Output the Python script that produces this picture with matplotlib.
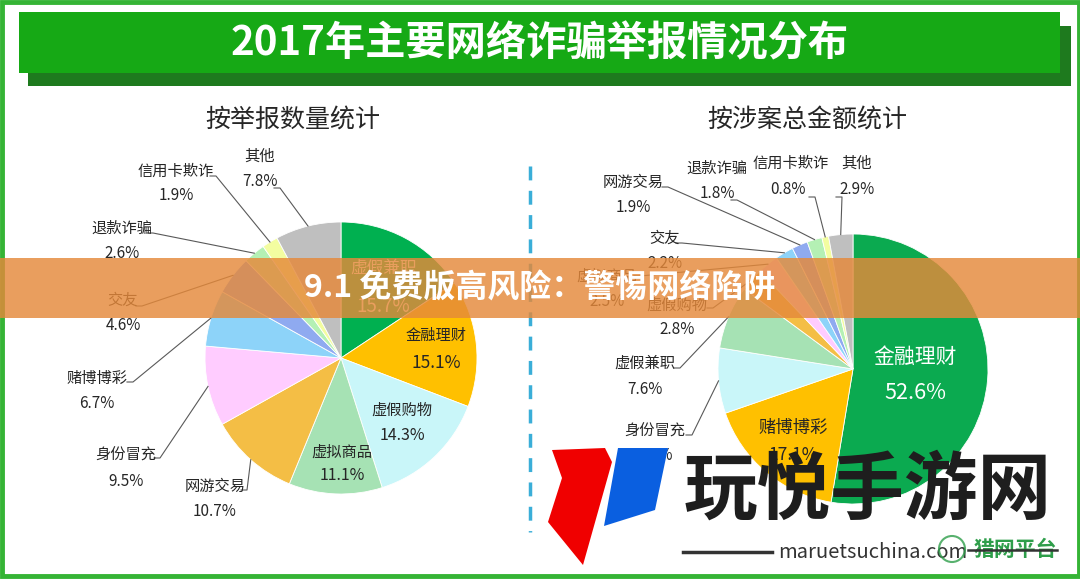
import matplotlib
matplotlib.use("Agg")
import numpy as np
import matplotlib.pyplot as plt
from matplotlib.patches import Rectangle, Polygon, Circle

plt.rcParams['font.family'] = ['Noto Sans CJK SC', 'DejaVu Sans']

# ---- данні ----
title = "2017年主要网络诈骗举报情况分布"
left_title = "按举报数量统计"
right_title = "按涉案总金额统计"
banner_text = "9.1 免费版高风险：警惕网络陷阱"

left_labels = ["虚假兼职", "金融理财", "虚假购物", "虚拟商品", "网游交易", "身份冒充",
               "赌博博彩", "交友", "退款诈骗", "信用卡欺诈", "其他"]
left_values = [15.7, 15.1, 14.3, 11.1, 10.7, 9.5, 6.7, 4.6, 2.6, 1.9, 7.8]

right_labels = ["金融理财", "赌博博彩", "身份冒充", "虚假兼职", "虚假购物", "虚拟商品",
                "交友", "网游交易", "退款诈骗", "信用卡欺诈", "其他"]
right_values = [52.6, 17.1, 7.8, 7.6, 2.8, 2.5, 2.2, 1.9, 1.8, 0.8, 2.9]

left_colors = ['#00B050', '#FFC000', '#C9F6F9', '#A6E2B4', '#F4BE45', '#FFCCFF',
               '#8DD3F9', '#8FAAF0', '#B4F0B4', '#F3FDA0', '#BFBFBF']
right_colors = ['#0BAA50', '#FFC000', '#C9F6F9', '#A6E2B4', '#F4BE45', '#FFCCFF',
                '#8DD3F9', '#8FAAF0', '#B4F0B4', '#F3FDA0', '#BFBFBF']

# ---- розмітка (пікселі) ----
W, H = 1080, 579
left_pie = (341, 358, 136)
right_pie = (853, 369, 135)

# (назва x, y), (відсоток x, y), початок лінії або None для підписів всередині
left_layout = [
    ((384, 268), (383, 306), None, 'white', 12, 13.5),
    ((436, 335), (436, 363), None, '#262626', 11, 12.5),
    ((402, 410), (402, 435), None, '#262626', 11, 11.5),
    ((342, 452), (342, 476), None, '#262626', 11, 11.5),
    ((215, 486), (215, 511), (247, 490), '#262626', 11, 11),
    ((126, 455), (126, 481), (160, 458), '#262626', 11, 11),
    ((97, 378), (97, 404), (133, 382), '#262626', 11, 11),
    ((123, 300), (123, 326), (142, 306), '#262626', 11, 11),
    ((122, 228), (122, 254), (153, 233), '#262626', 11, 11),
    ((176, 171), (176, 196), (216, 176), '#262626', 11, 11),
    ((260, 156), (260, 182), (280, 188), '#262626', 11, 11),
]
right_layout = [
    ((915, 357), (915, 393), None, 'white', 15, 15.5),
    ((793, 428), (793, 455), None, '#262626', 12.5, 12.5),
    ((655, 431), (655, 456), (692, 435), '#262626', 11, 11),
    ((645, 363), (645, 390), (680, 368), '#262626', 11, 11),
    ((677, 305), (677, 330), (713, 308), '#262626', 11, 11),
    ((607, 276), (607, 301), (640, 276), '#262626', 11, 11),
    ((665, 238), (665, 264), (682, 243), '#262626', 11, 11),
    ((633, 182), (633, 208), (668, 187), '#262626', 11, 11),
    ((717, 168), (717, 193), (737, 200), '#262626', 11, 11),
    ((791, 163), (788, 189), (815, 197), '#262626', 11, 11),
    ((857, 163), (857, 189), (842, 197), '#262626', 11, 11),
]

fig = plt.figure(figsize=(W / 100, H / 100), dpi=100)
fig.patch.set_facecolor('white')

bg = fig.add_axes([0, 0, 1, 1], zorder=0)
bg.set_xlim(0, W)
bg.set_ylim(H, 0)
bg.axis('off')

# рамка і заголовок
bg.add_patch(Rectangle((1.5, 1.5), W - 3, H - 4.5, fill=False, edgecolor='#35B435', linewidth=3.5))
bg.add_patch(Rectangle((28, 26), 1043, 60, facecolor='#1E7A1E', edgecolor='none'))
bg.add_patch(Rectangle((19, 12), 1041, 61, facecolor='#16A915', edgecolor='none'))
bg.text(540, 44, title, color='white', fontsize=29, fontweight='bold', ha='center', va='center')
bg.text(293, 120, left_title, color='#262626', fontsize=18, ha='center', va='center')
bg.text(807, 120, right_title, color='#262626', fontsize=18, ha='center', va='center')
bg.plot([530, 530], [166, 532], color='#3AAED8', linewidth=2.5, linestyle=(0, (4, 3)))


def draw_pie(pie, values, colors):
    cx, cy, r = pie
    ax = fig.add_axes([(cx - r) / W, 1 - (cy + r) / H, 2 * r / W, 2 * r / H], zorder=1)
    ax.pie(values, colors=colors, startangle=90, counterclock=False, radius=1,
           wedgeprops=dict(edgecolor='white', linewidth=0.6))
    ax.set_xlim(-1, 1)
    ax.set_ylim(-1, 1)
    ax.axis('off')
    # середини секторів для ліній-виносок
    frac = np.cumsum(values) / np.sum(values) - np.array(values) / np.sum(values) / 2
    ang = np.deg2rad(90 - frac * 360)
    return [(cx + r * np.cos(a), cy - r * np.sin(a)) for a in ang]


left_anchor = draw_pie(left_pie, left_values, left_colors)
right_anchor = draw_pie(right_pie, right_values, right_colors)

ov = fig.add_axes([0, 0, 1, 1], zorder=2)
ov.set_xlim(0, W)
ov.set_ylim(H, 0)
ov.axis('off')
ov.patch.set_alpha(0)


def draw_labels(labels, values, layout, anchors):
    for name, val, lay, anc in zip(labels, values, layout, anchors):
        (nx, ny), (px, py), start, col, fs1, fs2 = lay
        ov.text(nx, ny, name, color=col, fontsize=fs1, ha='center', va='center', zorder=3)
        ov.text(px, py, f"{val}%", color=col, fontsize=fs2, ha='center', va='center', zorder=3)
        if start is not None:
            sx, sy = start
            ov.plot([sx - 6, sx, anc[0]], [sy, sy, anc[1]], color='#595959', linewidth=0.8, zorder=2)


draw_labels(left_labels, left_values, left_layout, left_anchor)
draw_labels(right_labels, right_values, right_layout, right_anchor)

# помаранчева смуга
ov.add_patch(Rectangle((0, 258), W, 60, facecolor='#E5893A', alpha=0.82, edgecolor='none', zorder=5))
ov.text(540, 289, banner_text, color='white', fontsize=23, fontweight='bold',
        ha='center', va='center', zorder=6)

# водяний знак
ov.add_patch(Polygon([(552, 450), (605, 448), (612, 462), (583, 565), (548, 522), (562, 478)],
                     closed=True, facecolor='#F00000', edgecolor='none', zorder=7))
ov.add_patch(Polygon([(618, 448), (668, 448), (655, 510), (604, 526)],
                     closed=True, facecolor='#0A5FE0', edgecolor='none', zorder=7))
ov.text(868, 491, "玩悦手游网", color='#1E1E1E', fontsize=53, fontweight='heavy',
        ha='center', va='center', zorder=7)
ov.plot([683, 772], [552, 552], color='#333333', linewidth=2.5, zorder=7)
ov.text(778, 552, "maruetsuchina.com", color='#333333', fontsize=14.5,
        ha='left', va='center', zorder=7)
ov.add_patch(Circle((952, 549), 13, facecolor='none', edgecolor='#2E9E4A', linewidth=1.5, alpha=0.8, zorder=7))
ov.text(1015, 550, "猎网平台", color='#2E9E4A', fontsize=15, fontweight='bold',
        ha='center', va='center', zorder=7)
ov.plot([968, 1057], [550, 550], color='#333333', linewidth=1.8, zorder=8)

fig.savefig("out.png", dpi=100, facecolor='white')
